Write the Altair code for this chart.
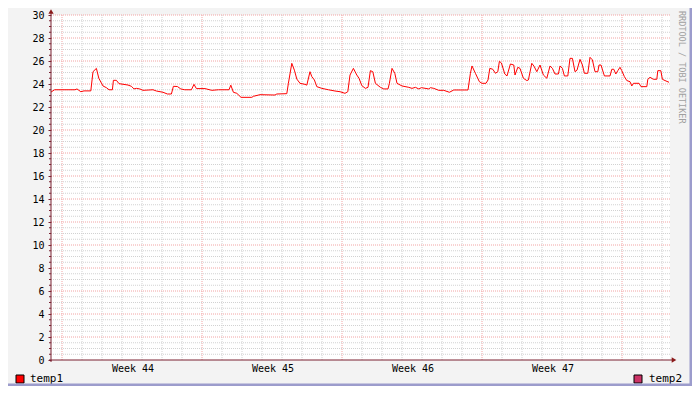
import altair as alt
import pandas as pd

# ---- data (x in days from start of Week 44, y in degrees) ----
days = [-0.55, -0.37, 0.65, 0.75, 0.94, 1.10, 1.44, 1.55, 1.72, 1.84, 2.05, 2.22, 2.35, 2.52, 2.57,
        2.72, 2.85, 3.30, 3.47, 3.60, 3.72, 3.89, 4.05, 4.55, 4.72, 5.05, 5.27, 5.47, 5.57, 5.77,
        5.94, 6.14, 6.47, 6.60, 6.72, 7.15, 7.49, 7.82, 8.35, 8.44, 8.57, 8.74, 8.95, 9.49, 9.57,
        9.90, 10.65, 10.74, 11.24, 11.32, 11.49, 11.62, 11.74, 11.90, 12.15, 12.24, 12.40, 12.49,
        12.62, 12.74, 12.99, 13.32, 13.65, 13.90, 14.15, 14.29, 14.40, 14.57, 14.74, 14.85, 14.99,
        15.17, 15.30, 15.42, 15.54, 15.67, 15.92, 16.09, 16.30, 16.37, 16.50, 16.64, 16.75, 17.00,
        17.34, 17.50, 17.67, 17.84, 17.97, 18.34, 18.42, 18.59, 18.84, 19.09, 19.37, 19.59, 20.30,
        20.42, 20.50, 20.67, 20.87, 21.00, 21.20, 21.30, 21.39, 21.54, 21.67, 21.79, 21.87, 21.97,
        22.14, 22.25, 22.42, 22.59, 22.65, 22.79, 22.90, 23.07, 23.24, 23.32, 23.49, 23.60, 23.74,
        23.90, 24.07, 24.24, 24.40, 24.52, 24.65, 24.82, 24.90, 25.02, 25.12, 25.29, 25.40, 25.52,
        25.65, 25.75, 25.90, 26.02, 26.12, 26.29, 26.40, 26.52, 26.65, 26.79, 26.85, 26.95, 27.12,
        27.40, 27.49, 27.59, 27.69, 27.79, 27.90, 27.99, 28.12, 28.24, 28.40, 28.49, 28.57, 28.85,
        28.95, 29.24, 29.29, 29.40, 29.57, 29.74, 29.79, 29.94, 30.02, 30.15, 30.35]
temp1 = [23.30, 23.50, 23.50, 23.57, 23.33, 23.40, 23.40, 25.07, 25.36, 24.50, 23.83, 23.68, 23.50,
         23.50, 24.32, 24.32, 24.03, 23.91, 23.80, 23.57, 23.62, 23.57, 23.45, 23.50, 23.39, 23.28,
         23.13, 23.13, 23.80, 23.78, 23.57, 23.50, 23.50, 23.97, 23.60, 23.60, 23.45, 23.50, 23.50,
         23.90, 23.28, 23.19, 22.84, 22.84, 22.93, 23.07, 23.04, 23.13, 23.16, 24.06, 25.80, 25.20,
         24.43, 24.06, 23.97, 23.90, 25.07, 24.64, 24.35, 23.77, 23.62, 23.50, 23.39, 23.33, 23.19,
         23.33, 24.78, 25.36, 24.78, 24.50, 23.86, 23.62, 23.71, 25.16, 25.07, 24.06, 23.71, 23.57,
         23.57, 24.06, 25.36, 24.93, 24.06, 23.83, 23.71, 23.62, 23.71, 23.57, 23.68, 23.57, 23.68,
         23.62, 23.45, 23.45, 23.28, 23.48, 23.48, 24.93, 25.57, 24.93, 24.20, 24.06, 24.06, 24.35,
         25.36, 25.28, 24.93, 25.07, 25.97, 25.83, 24.87, 24.70, 25.74, 25.65, 24.78, 25.45, 25.36,
         24.50, 24.30, 24.35, 25.80, 25.55, 25.07, 25.65, 24.78, 24.50, 25.57, 25.36, 24.87, 24.87,
         25.57, 25.36, 24.70, 24.70, 26.23, 26.23, 25.07, 25.20, 26.14, 25.65, 24.93, 24.93, 26.32,
         26.10, 25.07, 25.07, 25.65, 25.65, 24.70, 24.70, 25.28, 25.28, 24.87, 25.16, 25.45, 25.16,
         24.64, 24.30, 24.20, 23.83, 24.06, 24.06, 23.77, 23.77, 24.41, 24.58, 24.41, 24.41, 25.16,
         25.16, 24.41, 24.30, 24.15]

week_labels = ["Week 44", "Week 45", "Week 46", "Week 47"]
week_centres = [3.5, 10.5, 17.5, 24.5]
major_days = [0, 7, 14, 21, 28]
minor_days = [d for d in range(1, 31) if d % 7 != 0]
y_major = list(range(0, 31, 2))
y_minor = [v / 2 for v in range(1, 60) if v % 4 != 0]
series_names = ["temp1", "temp2"]
series_colors = ["#ff0000", "#cc3366"]

W, H = 619, 345
FONT = "DejaVu Sans Mono"
AXIS_COL = "#7a2030"
ARROW_COL = "#8b1a1a"
LEG_Y = 364

xs = alt.Scale(domain=[-0.55, 30.4], nice=False, zero=False)
ys = alt.Scale(domain=[0, 30], nice=False, zero=True)
y_axis = alt.Axis(
    values=y_major, title=None, grid=False, domain=False,
    ticks=True, tickSize=3, tickColor=AXIS_COL,
    labelFont=FONT, labelFontSize=10, labelColor="#000000", labelPadding=4,
)

line_df = pd.DataFrame({"day": days, "temp": temp1})

minor_x = alt.Chart(pd.DataFrame({"d": minor_days})).mark_rule(
    color="#d2d2d2", strokeDash=[1, 1], strokeWidth=1
).encode(x=alt.X("d:Q", scale=xs, axis=None))
major_x = alt.Chart(pd.DataFrame({"d": major_days})).mark_rule(
    color="#f2a4a4", strokeDash=[1, 1], strokeWidth=1
).encode(x=alt.X("d:Q", scale=xs, axis=None))
minor_y = alt.Chart(pd.DataFrame({"v": y_minor})).mark_rule(
    color="#d2d2d2", strokeDash=[1, 1], strokeWidth=1
).encode(y=alt.Y("v:Q", scale=ys, axis=y_axis))
major_y = alt.Chart(pd.DataFrame({"v": [v for v in y_major if v > 0]})).mark_rule(
    color="#f2a4a4", strokeDash=[1, 1], strokeWidth=1
).encode(y=alt.Y("v:Q", scale=ys, axis=y_axis))

minor_ticks = alt.Chart(pd.DataFrame({"v": y_minor})).mark_rule(
    color=AXIS_COL, strokeWidth=1
).encode(y=alt.Y("v:Q", scale=ys, axis=y_axis), x=alt.value(-2), x2=alt.value(0))

line = alt.Chart(line_df).mark_line(color="#ff0000", strokeWidth=1, interpolate="linear").encode(
    x=alt.X("day:Q", scale=xs, axis=None),
    y=alt.Y("temp:Q", scale=ys, axis=y_axis),
)

y_axis_line = alt.Chart(pd.DataFrame({"a": [0]})).mark_rule(color=AXIS_COL, strokeWidth=1).encode(
    x=alt.value(0), y=alt.value(-3), y2=alt.value(H + 2)
)
x_axis_line = alt.Chart(pd.DataFrame({"a": [0]})).mark_rule(color=AXIS_COL, strokeWidth=1).encode(
    x=alt.value(-2), x2=alt.value(W + 4), y=alt.value(H)
)
y_arrow = alt.Chart(pd.DataFrame({"a": [0]})).mark_point(
    shape="triangle-up", filled=True, size=28, color=ARROW_COL, opacity=1
).encode(x=alt.value(0), y=alt.value(-3.5))
x_arrow = alt.Chart(pd.DataFrame({"a": [0]})).mark_point(
    shape="triangle-right", filled=True, size=28, color=ARROW_COL, opacity=1
).encode(x=alt.value(W + 4), y=alt.value(H))

week_text = alt.Chart(pd.DataFrame({"c": week_centres, "t": week_labels})).mark_text(
    font=FONT, fontSize=10, color="#000000", baseline="middle", align="center", dx=1
).encode(x=alt.X("c:Q", scale=xs, axis=None), y=alt.value(H + 9), text="t:N")

legend_df = pd.DataFrame({
    "name": series_names, "col": series_colors,
    "sx": [-31, 587], "tx": [-21, 598],
})
legend_sq = alt.Chart(legend_df).mark_square(
    size=64, filled=True, stroke="#000000", strokeWidth=1, opacity=1
).encode(
    x=alt.X("sx:Q", scale=None), y=alt.value(LEG_Y),
    color=alt.Color("col:N", scale=None, legend=None),
)
legend_txt = alt.Chart(legend_df).mark_text(
    font=FONT, fontSize=11, color="#000000", align="left", baseline="middle"
).encode(x=alt.X("tx:Q", scale=None), y=alt.value(LEG_Y), text="name:N")

credit = alt.Chart(pd.DataFrame({"t": ["RRDTOOL / TOBI OETIKER"]})).mark_text(
    font=FONT, fontSize=8.5, color="#a0a0a0", align="left", baseline="middle", angle=90
).encode(x=alt.value(631), y=alt.value(-4), text="t:N")

border_r = alt.Chart(pd.DataFrame({"a": [0]})).mark_rule(color="#9c9ccc", strokeWidth=2.5).encode(
    x=alt.value(639.75), y=alt.value(-8), y2=alt.value(372)
)
border_b = alt.Chart(pd.DataFrame({"a": [0]})).mark_rule(color="#9c9ccc", strokeWidth=2.5).encode(
    x=alt.value(-44), x2=alt.value(642), y=alt.value(369.75)
)

chart = alt.layer(
    minor_x, major_x, minor_y, major_y, line, minor_ticks,
    y_axis_line, x_axis_line, y_arrow, x_arrow,
    week_text, legend_sq, legend_txt, credit, border_r, border_b,
).properties(
    width=W, height=H,
    padding={"left": 43, "top": 7, "right": 22, "bottom": 26},
    autosize=alt.AutoSizeParams(type="none"),
    background="#f3f3f3",
).configure_view(stroke=None, fill="#ffffff")

chart.save("out.html", embed_options={"renderer": "svg", "actions": False})
